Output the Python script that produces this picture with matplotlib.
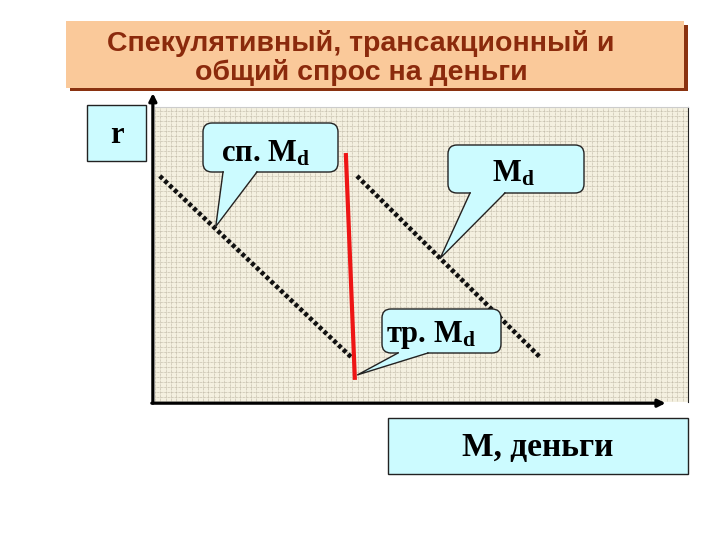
import numpy as np
import matplotlib
matplotlib.use("Agg")
import matplotlib.pyplot as plt
from matplotlib.patches import Rectangle, FancyBboxPatch, Polygon
from matplotlib.lines import Line2D
from matplotlib.transforms import IdentityTransform

plt.rcParams['mathtext.fontset'] = 'custom'
plt.rcParams['mathtext.rm'] = 'Liberation Serif:bold'
plt.rcParams['mathtext.it'] = 'Liberation Serif:bold'

# data (M = money, r = interest rate), arbitrary units 0..10
spec_M = [0.09, 3.70]     # speculative demand
spec_r = [7.66, 1.49]
trans_M = [3.58, 3.75]    # transaction demand
trans_r = [8.44, 0.75]
total_M = [3.79, 7.24]    # total demand
total_r = [7.66, 1.49]

title_lines = ["Спекулятивный, трансакционный и", "общий спрос на деньги"]

W, H = 720, 540
PEACH = '#fac99a'
BROWN = '#8a3210'
TXT = '#8b2a0c'
CYAN = '#ccfbff'
ID = IdentityTransform()

fig = plt.figure(figsize=(7.2, 5.4), dpi=100, facecolor='white')

def box(x0, y0, x1, y1, **kw):
    fig.add_artist(Rectangle((x0, H - y1), x1 - x0, y1 - y0, transform=ID, **kw))

def txt(x, y, s, **kw):
    fig.text(x / W, 1 - y / H, s, **kw)

# title
box(70, 25, 688, 91, fc=BROWN, ec='none', zorder=1)
box(66, 21, 684, 88, fc=PEACH, ec='none', zorder=2)
for i, line in enumerate(title_lines):
    txt(361, 51 + 29 * i, line, ha='center', va='baseline', fontsize=20.5,
        fontweight='bold', family='Liberation Sans', color=TXT, zorder=3)

# main axes
ax = fig.add_axes([155 / W, 1 - 402 / H, 533 / W, 295 / H])
ax.set_xlim(0, 10)
ax.set_ylim(0, 10)
ax.set_facecolor('#f4f0e0')
ax.set_xticks(np.arange(0, 10, 0.1))
ax.set_yticks(np.arange(0, 10, 0.17))
ax.tick_params(length=0, labelbottom=False, labelleft=False)
ax.grid(True, color='#b3ab98', lw=0.5, ls=(0, (1, 1)))
for s in ['left', 'bottom']:
    ax.spines[s].set_visible(False)
ax.spines['top'].set_color('#cccccc')
ax.spines['right'].set_color('#222222')

arr = dict(arrowstyle='-|>', lw=2.3, color='black', mutation_scale=11, shrinkA=0, shrinkB=0)
ax.annotate('', xy=(-0.004, 1.047), xytext=(-0.004, -0.004), xycoords='axes fraction',
            arrowprops=arr, annotation_clip=False)
ax.annotate('', xy=(0.958, -0.004), xytext=(-0.006, -0.004), xycoords='axes fraction',
            arrowprops=arr, annotation_clip=False)

dots = (0, (0.85, 0.6))
ax.plot(spec_M, spec_r, color='#111111', lw=3.3, ls=dots)
ax.plot(total_M, total_r, color='#111111', lw=3.3, ls=dots)
ax.plot(trans_M, trans_r, color='#ee1515', lw=3, solid_capstyle='butt')

fig.canvas.draw()

def bubble(x0, y0, x1, y1, bx0, bx1, tip, label, tx, ty):
    fig.add_artist(FancyBboxPatch((x0, H - y1), x1 - x0, y1 - y0,
                                  boxstyle='round,pad=0,rounding_size=9',
                                  fc=CYAN, ec='#222222', lw=1, transform=ID, zorder=5))
    px, py = ax.transData.transform(tip)
    by = H - y1
    fig.add_artist(Polygon([(bx0 + 1, by + 3), (bx0 + 1, by), (px, py), (bx1 - 1, by), (bx1 - 1, by + 3)],
                           closed=True, fc=CYAN, ec='none', transform=ID, zorder=6))
    fig.add_artist(Line2D([bx0, px, bx1], [by, py, by], color='#222222', lw=1,
                          transform=ID, zorder=7))
    txt(tx, ty, label, ha='left', va='baseline', fontsize=22, fontweight='bold',
        family='Liberation Serif', color='black', zorder=8)

bubble(203, 123, 338, 172, 223, 257, (1.14, 5.95), 'сп. $\\mathrm{M_d}$', 221, 162)
bubble(448, 145, 584, 193, 470, 505, (5.35, 4.87), '$\\mathrm{M_d}$', 492, 182)
bubble(382, 309, 501, 353, 398, 428, (3.80, 0.92), 'тр. $\\mathrm{M_d}$', 386, 342)

# r label
box(87, 105, 146, 161, fc=CYAN, ec='#222222', lw=1, zorder=5)
txt(117, 143, 'r', ha='center', va='baseline', fontsize=22, fontweight='bold',
    family='Liberation Serif', zorder=8)

# M label
box(388, 418, 688, 474, fc=CYAN, ec='#222222', lw=1, zorder=5)
txt(538, 456, 'M, деньги', ha='center', va='baseline', fontsize=24, fontweight='bold',
    family='Liberation Serif', zorder=8)

fig.savefig('out.png', dpi=100)
